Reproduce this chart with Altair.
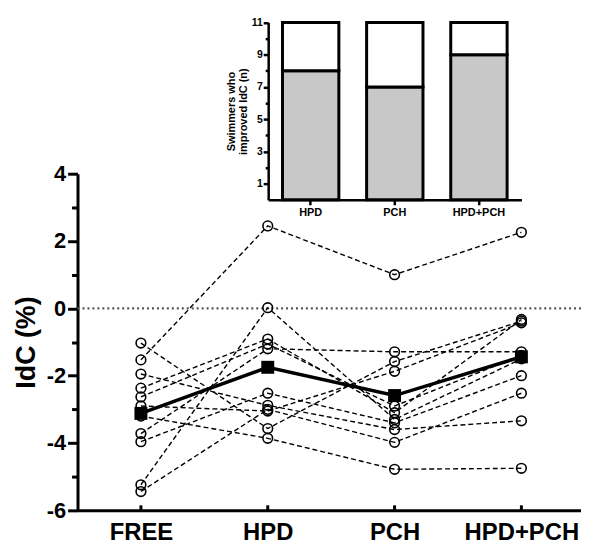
import json
import altair as alt
import pandas as pd

# ---------------- data ----------------
conditions = ["FREE", "HPD", "PCH", "HPD+PCH"]
swimmers = ["S1", "S2", "S3", "S4", "S5", "S6", "S7", "S8", "S9", "S10", "S11"]
idc_free = [-1.53, -5.24, -2.37, -2.63, -3.72, -3.96, -1.95, -5.44, -2.90, -1.03, -3.20]
idc_hpd = [2.45, 0.02, -0.91, -1.06, -1.20, -2.52, -2.88, -3.00, -3.05, -3.57, -3.86]
idc_pch = [1.00, -3.30, -3.10, -2.90, -1.29, -3.40, -3.60, -3.98, -1.87, -1.58, -4.78]
idc_hpd_pch = [2.26, -1.50, -0.33, -1.40, -1.29, -2.00, -3.34, -2.52, -0.43, -0.38, -4.75]
idc_mean = [-3.12, -1.75, -2.59, -1.44]

inset_conditions = ["HPD", "PCH", "HPD+PCH"]
improved = [8, 7, 9]
total_swimmers = 11

FONT = "Liberation Sans"

# ---------------- tables ----------------
series = [idc_free, idc_hpd, idc_pch, idc_hpd_pch]
rows = []
for ci, vals in enumerate(series):
    for s, v in zip(swimmers, vals):
        rows.append({"swimmer": s, "pos": ci, "val": v})
df_ind = pd.DataFrame(rows)
df_mean = pd.DataFrame({"pos": list(range(len(conditions))), "val": idc_mean})
df_zero = pd.DataFrame({"val": [0]})
df_ticks = pd.DataFrame({"pos": list(range(len(conditions))), "val": [-6] * 4, "val2": [-5.85] * 4})

inset_rows = []
for c, n in zip(inset_conditions, improved):
    inset_rows.append({"cond": c, "segment": "improved", "lo": 0, "hi": n})
    inset_rows.append({"cond": c, "segment": "not", "lo": n, "hi": total_swimmers})
df_inset = pd.DataFrame(inset_rows)

# ---------------- main encodings ----------------
X_main = alt.X(
    "pos:Q",
    scale=alt.Scale(domain=[-0.5, 3.47], nice=False, zero=False),
    axis=alt.Axis(
        orient="bottom",
        values=[0, 1, 2, 3],
        labelExpr=json.dumps(conditions) + "[datum.value]",
        title=None,
        ticks=False,
        domainWidth=3,
        domainColor="black",
        labelFont=FONT,
        labelFontSize=24,
        labelFontWeight="bold",
        labelColor="black",
        labelPadding=10,
        grid=False,
    ),
)
Y_main = alt.Y(
    "val:Q",
    scale=alt.Scale(domain=[-6, 4], range=[498, 159], nice=False, zero=False),
    axis=alt.Axis(
        orient="left",
        values=list(range(-6, 5)),
        labelExpr="datum.value % 2 == 0 ? '' + datum.value : ''",
        tickSize={"condition": {"test": "datum.value % 2 == 0", "value": 10}, "value": 6},
        tickWidth=3,
        tickColor="black",
        domainWidth=3,
        domainColor="black",
        title="IdC (%)",
        titleFont=FONT,
        titleFontSize=27,
        titleFontWeight="bold",
        titleColor="black",
        titlePadding=6,
        labelFont=FONT,
        labelFontSize=22,
        labelFontWeight="bold",
        labelColor="black",
        labelPadding=2,
        grid=False,
    ),
)

zero_line = alt.Chart(df_zero).mark_rule(color="#555555", strokeWidth=2.5, strokeDash=[2, 3]).encode(y=Y_main)
ind_lines = alt.Chart(df_ind).mark_line(color="black", strokeWidth=1.4, strokeDash=[5, 3]).encode(
    x=X_main, y=Y_main, detail="swimmer:N", order="pos:Q"
)
ind_points = alt.Chart(df_ind).mark_point(
    shape="circle", filled=False, color="black", size=95, strokeWidth=1.6, opacity=1
).encode(x=X_main, y=Y_main)
mean_line = alt.Chart(df_mean).mark_line(color="black", strokeWidth=3.5).encode(x=X_main, y=Y_main)
mean_points = alt.Chart(df_mean).mark_point(
    shape="square", filled=True, color="black", size=170, opacity=1
).encode(x=X_main, y=Y_main)
x_ticks = alt.Chart(df_ticks).mark_rule(color="black", strokeWidth=3).encode(x=X_main, y=Y_main, y2="val2:Q")

main = alt.layer(zero_line, ind_lines, ind_points, mean_line, mean_points, x_ticks)

# ---------------- inset ----------------
X_inset = alt.X(
    "cond:N",
    sort=inset_conditions,
    scale=alt.Scale(range=[192, 447], paddingInner=0.33, paddingOuter=0.17),
    axis=alt.Axis(
        orient="bottom",
        offset=-312.7,
        title=None,
        labelAngle=0,
        tickSize=5,
        tickWidth=2.5,
        tickColor="black",
        domainWidth=2.5,
        domainColor="black",
        labelFont=FONT,
        labelFontSize=11,
        labelFontWeight="bold",
        labelColor="black",
        labelPadding=2,
        grid=False,
    ),
)
Y_inset = alt.Y(
    "lo:Q",
    scale=alt.Scale(domain=[0, 11], range=[185.3, 6.7], nice=False, zero=False),
    axis=alt.Axis(
        orient="left",
        offset=-192,
        values=list(range(1, 12)),
        labelExpr="datum.value % 2 == 1 ? '' + datum.value : ''",
        tickSize={"condition": {"test": "datum.value % 2 == 1", "value": 5}, "value": 3},
        tickWidth=2.5,
        tickColor="black",
        domainWidth=2.5,
        domainColor="black",
        title=["Swimmers who", "improved IdC (n)"],
        titleFont=FONT,
        titleFontSize=11,
        titleFontWeight="bold",
        titleColor="black",
        titleLineHeight=12,
        titlePadding=3,
        labelFont=FONT,
        labelFontSize=10.5,
        labelFontWeight="bold",
        labelColor="black",
        labelPadding=1,
        grid=False,
    ),
)
inset = alt.Chart(df_inset).mark_bar(stroke="black", strokeWidth=3, strokeJoin="miter").encode(
    x=X_inset,
    y=Y_inset,
    y2="hi:Q",
    fill=alt.Fill(
        "segment:N",
        scale=alt.Scale(domain=["improved", "not"], range=["#c8c8c8", "#ffffff"]),
        legend=None,
    ),
)

chart = (
    alt.layer(main, inset)
    .resolve_scale(x="independent", y="independent")
    .properties(
        width=507,
        height=498,
        padding={"left": 70, "top": 6, "right": 0, "bottom": 32},
        autosize=alt.AutoSizeParams(type="none"),
        background="white",
    )
    .configure_view(stroke=None)
)

chart.save("out.html", embed_options={"renderer": "svg", "actions": False})
